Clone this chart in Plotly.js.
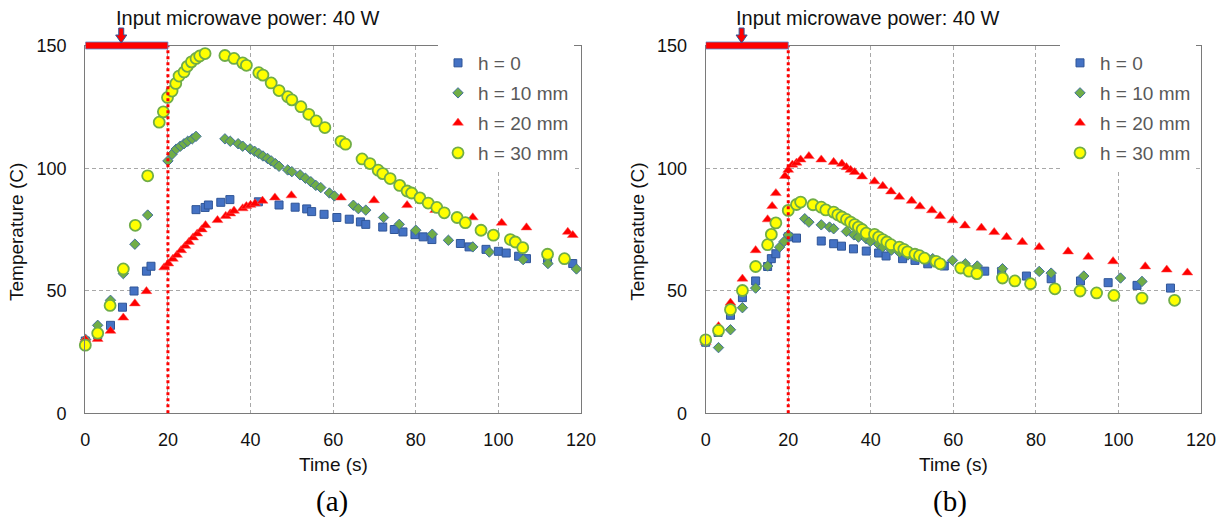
<!DOCTYPE html>
<html><head><meta charset="utf-8">
<script src="https://cdn.plot.ly/plotly-3.0.1.min.js"></script>
<style>html,body{margin:0;padding:0;background:#fff}</style>
</head><body><div id="chart" style="width:1227px;height:517px"></div>
<script>
// ---------- data ----------
const seriesNames = ["h = 0", "h = 10 mm", "h = 20 mm", "h = 30 mm"];
const powerLabel = "Input microwave power: 40 W";
const powerOn = [0, 20];          // seconds of microwave input
const arrowTime = 8.7;
const xTicks = [0, 20, 40, 60, 80, 100, 120];
const yTicks = [0, 50, 100, 150];

// Panel (a)
const a_h0_t = [0,3,6.1,9,11.8,14.8,15.9,26.8,29,29.8,32.8,35,41.9,46.9,50.8,53.6,54.8,57.8,60.9,63.9,66.6,67.9,72,74.8,76.9,79.8,81.8,83.9,90.8,92.9,97,100,101.9,104.9,106.8,111.9,118];
const a_h0_T = [29.5,32,35.9,43.3,49.9,58,60,83.1,84,85,86.1,87.2,86.3,85,84.1,83.4,82.3,81.2,79.9,79.2,78.1,77.1,76,75,74,72.9,72,70.9,69.3,67.9,66.9,66.1,65.4,64.1,63.1,63.1,61.1];
const a_h10_t = [0.1,3,6.1,9.2,12,15.1,20,21,22,23,23.9,24.8,25.9,26.8,33.8,35.1,37,38.1,39.9,41,42,43,44.1,45,46,46.9,49,50,52,53.3,54.6,55.8,57,59.1,60.3,64.9,66.1,67.9,72.2,76,80,84,87.9,93.8,97.8,106,112,118.9];
const a_h10_T = [30.1,35.9,46.1,57,69,80.9,103,105.7,107.8,109,110,111,112,113,112,111,110,109,107.9,106.9,106,105,104,103,101.9,100.8,99.3,98.6,97.3,95.9,94.5,93,92.1,89.9,88.7,84.9,83.5,82.9,79.9,77.1,74.7,73.1,70.6,67.9,65.8,62.7,61.1,58.9];
const a_h20_t = [0,3,6.1,9.2,12,14.8,19.1,20.1,21.2,22.2,23.2,24.2,25.1,26.1,27.1,28.2,29.1,32,34,35.1,36,38.1,39,40,41.1,42.9,45.9,49.9,61.9,69.9,77.9,84.7,93.8,100.8,106.8,116.8,118];
const a_h20_T = [30.1,30.3,33.6,39,44.8,49.8,59.5,61.1,63,64.6,66.5,68.3,69.9,71.7,73.3,75,76.7,78.8,80.5,81.5,82.6,83.6,84.5,85,85.6,86.7,88,88.9,88,86.9,84.9,82.9,79.9,77.7,75.8,74,72.7];
const a_h30_t = [0,3,6,9.2,12.1,15.1,17.9,18.9,19.9,21,21.9,22.7,23.9,24.7,25.7,26.8,27.7,29,33.8,36,38.1,39,42,43,45,46.9,49,50,52.2,54.1,55.9,58,61.9,63,67,68.9,70.9,72,73.8,76.1,77.9,79,81,83,85.1,86.9,90,92,95.8,98.8,102.9,104.1,105.9,111.9,116];
const a_h30_T = [27.8,32.7,44,58.9,76.7,96.9,118.8,123,128.9,131.5,134.6,137.6,139.3,141.6,143.4,144.8,145.8,146.8,146,144.8,143,142,139,138,134.8,131.7,129.2,127.9,125.1,122,119.3,116.6,111,109.8,103.8,101.9,99.2,97.8,95.8,93,90.7,89.9,87.9,85.8,84,81.8,79.9,77.8,74.7,72.7,70.9,69.9,67.6,64.9,63.1];

// Panel (b)
const b_h0_t = [0,3,6,8.9,12.1,15,15.9,17,20,22,28,31,32.9,35.8,38.9,41.9,43.7,47.7,50.7,53.8,57.8,67.6,71.7,77.7,83.7,90.8,97.5,104.5,112.6];
const b_h0_T = [29,33,40,47.2,54,59.9,63.1,65.1,72,71.5,70.3,69.2,68.2,67.1,66.2,65.4,64.2,63.1,62.4,61,60.1,58,57.9,56,54.9,54,53.3,52.2,51.1];
const b_h10_t = [0,3.1,6,8.9,12.1,15,17.9,19,20,24,25,28,30,31,34.1,35.9,37,38.9,39.9,41.9,42.9,45,47,49,51,55,59.8,62.9,65.8,71.9,80.8,83.7,91.6,100.5,105.7];
const b_h10_T = [29,26.8,34.1,43.1,51.1,60.1,67.8,70.1,72.8,79.4,78,76.9,76,75.3,74.2,72.8,71.9,71.2,70.1,68.9,67.8,66.6,65.6,64.6,63.9,63.1,62.4,61,60.1,59,57.9,57.2,56,55.2,53.8];
const b_h20_t = [0,3.1,6,8.9,12.1,15,16.1,17,19.2,20,21,22,23,25,28,31,33,34.1,35.1,36.1,37.9,40.9,42.9,44.9,46.9,49.9,51.9,54.8,56.8,59.8,62.8,66.8,69.9,72.9,76.7,80.8,87.8,92.7,98.7,106.5,111.7,116.7];
const b_h20_T = [29.1,35.5,45.1,54.9,66.5,79.1,84.5,89.8,96.8,99.3,101.4,102.2,103.5,104.9,103.5,102.5,101.8,100.4,99.3,98.4,96.6,94.6,92.7,90.5,88.3,86.7,84.4,82.8,80.5,78.7,76.6,75.7,73.9,71.9,69.9,67.8,66,63.8,62,59.9,58.6,57.4];
const b_h30_t = [0,3.1,6,8.9,12.1,15,15.9,17,20,22,23,26,28,29.1,31,32,33,34.1,35.1,36.1,37,37.9,38.9,40.9,41.9,42.9,43.9,44.9,46.9,48,48.9,50.7,51.8,53,55.8,56.8,61.8,63.8,65.7,71.9,74.9,78.7,84.6,90.7,94.7,98.9,105.7,113.6];
const b_h30_T = [30,33.8,42.3,50.1,59.9,68.8,73,77.7,82.8,85.2,86.2,85.1,84.1,83,82.1,81,80.1,79.1,78,77,76,75,73.5,73,71.9,70.9,69.9,68.8,67.8,66.9,65.9,64.9,64.3,63.3,62,61,59.3,58,57,55.2,54,52.9,50.8,49.9,49.1,48.1,47,46.1];

// ---------- styles ----------
const markerStyles = [
  {symbol: 'square', size: 8, color: '#4472C4', line: {color: '#2F5597', width: 1}},
  {symbol: 'diamond', size: 8, color: '#70AD47', line: {color: '#41719C', width: 1}},
  {symbol: 'triangle-up', size: 9.5, color: '#FF0000', line: {color: '#FF5050', width: 0.5}},
  {symbol: 'circle', size: 11, color: '#FFFF00', line: {color: '#70AD47', width: 1.8}}
];

const panels = [
  {xa: 'x', ya: 'y', leg: 'legend', tag: 'a',
   t: [a_h0_t, a_h10_t, a_h20_t, a_h30_t], T: [a_h0_T, a_h10_T, a_h20_T, a_h30_T]},
  {xa: 'x2', ya: 'y2', leg: 'legend2', tag: 'b',
   t: [b_h0_t, b_h10_t, b_h20_t, b_h30_t], T: [b_h0_T, b_h10_T, b_h20_T, b_h30_T]}
];

const traces = [];
panels.forEach(p => {
  for (let i = 0; i < 4; i++) {
    traces.push({
      type: 'scatter', mode: 'markers',
      x: p.t[i], y: p.T[i], name: seriesNames[i],
      xaxis: p.xa, yaxis: p.ya, legend: p.leg,
      legendgroup: p.tag + i,
      cliponaxis: false,
      marker: markerStyles[i], hoverinfo: 'x+y'
    });
  }
});

const FONT = 'Liberation Sans, Arial, sans-serif';
const W = 1227, H = 517;
const yDom = [1 - 413.3 / H, 1 - 45.7 / H];

function xAxis(dom, anchor) {
  return {domain: dom, anchor: anchor, range: [0, 120], tickvals: xTicks,
    showgrid: true, gridcolor: '#a8a8a8', gridwidth: 1, griddash: '4px,3px',
    zeroline: false, showline: true, mirror: true, linecolor: '#7a7a7a', linewidth: 1.3,
    ticks: '', ticklabelstandoff: 10,
    tickfont: {family: FONT, size: 18, color: '#111'}, fixedrange: true};
}
function yAxis(anchor) {
  return {domain: yDom, anchor: anchor, range: [0, 150], tickvals: yTicks,
    showgrid: true, gridcolor: '#a8a8a8', gridwidth: 1, griddash: '4px,3px',
    zeroline: false, showline: true, mirror: true, linecolor: '#7a7a7a', linewidth: 1.3,
    ticks: '', ticklabelstandoff: 14,
    tickfont: {family: FONT, size: 18, color: '#111'}, fixedrange: true};
}

function legend(xpx) {
  return {x: xpx / W, y: 1 - 44 / H, xanchor: 'left', yanchor: 'top',
    bgcolor: '#ffffff', borderwidth: 0, tracegroupgap: 2.3,
    font: {family: FONT, size: 19, color: '#595959'}};
}

const shapes = [], annotations = [];
[{xr: 'x', yr: 'y', tx: 0.2706, lab: '(a)', ytx: 16 / W},
 {xr: 'x2', yr: 'y2', tx: 0.7742, lab: '(b)', ytx: 636.7 / W}].forEach(p => {
  // dotted line marking end of microwave input
  shapes.push({type: 'line', xref: p.xr, yref: p.yr, x0: powerOn[1], x1: powerOn[1], y0: 0, y1: 150,
    line: {color: '#FF0000', width: 3, dash: 'dot'}, layer: 'above'});
  // power-on bar
  shapes.push({type: 'rect', xref: p.xr, yref: 'paper', x0: powerOn[0], x1: powerOn[1],
    y0: 1 - 49 / H, y1: 1 - 42 / H, fillcolor: '#FF0000',
    line: {color: '#5B8BD0', width: 0.8}, layer: 'above'});
  // small down arrow
  const a = arrowTime, yT = 1 - 28 / H, yM = 1 - 35 / H, yB = 1 - 43 / H;
  shapes.push({type: 'path', xref: p.xr, yref: 'paper',
    path: `M ${a - 0.6},${yT} L ${a + 0.6},${yT} L ${a + 0.6},${yM} L ${a + 1.35},${yM} L ${a},${yB} L ${a - 1.35},${yM} L ${a - 0.6},${yM} Z`,
    fillcolor: '#FF0000', line: {color: '#2F5597', width: 1}, layer: 'above'});
  annotations.push({xref: p.xr, yref: 'paper', x: 39.3, y: 1 - 18 / H, text: powerLabel,
    showarrow: false, xanchor: 'center', yanchor: 'middle',
    font: {family: FONT, size: 20, color: '#111'}});
  annotations.push({xref: p.xr, yref: 'paper', x: 60, y: 1 - 464 / H, text: 'Time (s)',
    showarrow: false, xanchor: 'center', yanchor: 'middle',
    font: {family: FONT, size: 19, color: '#111'}});
  annotations.push({xref: 'paper', yref: 'paper', x: p.ytx, y: 1 - 232 / H, text: 'Temperature (C)',
    textangle: -90, showarrow: false, xanchor: 'center', yanchor: 'middle',
    font: {family: FONT, size: 19, color: '#111'}});
  annotations.push({xref: 'paper', yref: 'paper', x: p.tx, y: 1 - 501 / H, text: p.lab,
    showarrow: false, xanchor: 'center', yanchor: 'middle',
    font: {family: 'Liberation Serif, Times New Roman, serif', size: 29, color: '#000'}});
});

const layout = {
  width: W, height: H, margin: {l: 0, r: 0, t: 0, b: 0},
  paper_bgcolor: '#fff', plot_bgcolor: '#fff',
  font: {family: FONT},
  showlegend: true,
  xaxis: xAxis([85.3 / W, 581 / W], 'y'),
  yaxis: yAxis('x'),
  xaxis2: xAxis([705.7 / W, 1201 / W], 'y2'),
  yaxis2: yAxis('x2'),
  legend: legend(438),
  legend2: legend(1060),
  shapes: shapes,
  annotations: annotations
};

Plotly.newPlot('chart', traces, layout, {displayModeBar: false, responsive: false});
</script></body></html>
